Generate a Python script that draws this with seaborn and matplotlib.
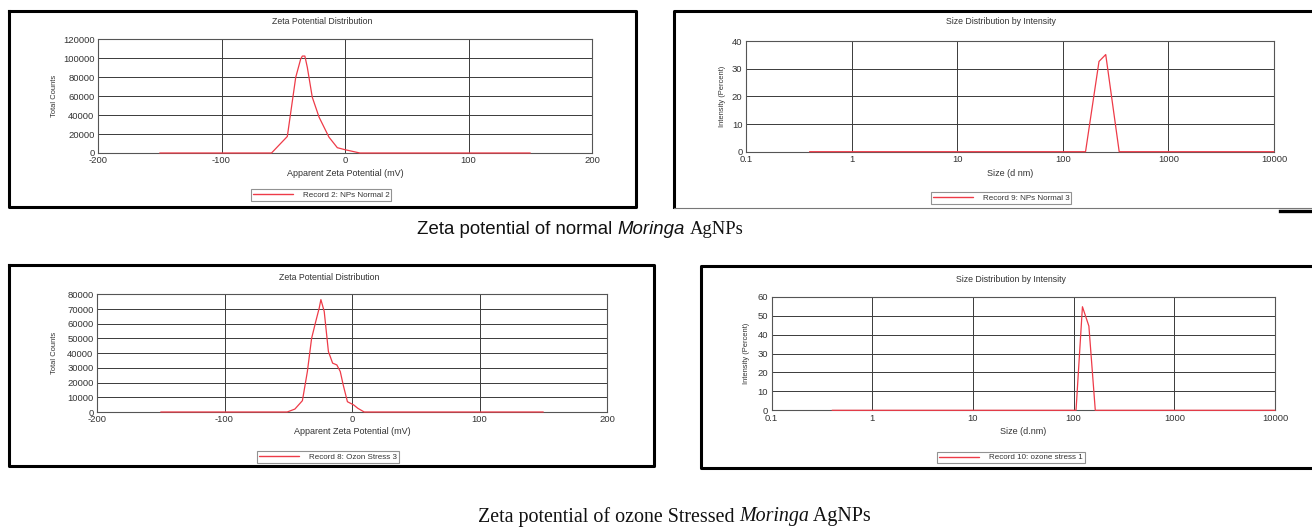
import numpy as np
import pandas as pd
import matplotlib
matplotlib.use("Agg")
import matplotlib.pyplot as plt
import seaborn as sns
from matplotlib.ticker import FixedLocator, FixedFormatter, NullFormatter
from matplotlib.lines import Line2D

# ---------------- data ----------------
# Zeta potential, normal AgNPs (mV vs total counts)
zeta_normal_mv = [-150, -59.5, -46.7, -39.9, -35.9, -34.5, -32.5, -30.5, -26.5, -21.0, -13.0, -6.2, 0.0, 8.6, 12.0, 150]
zeta_normal_counts = [0, 0, 17500, 80000, 99300, 102500, 102500, 90500, 59000, 37900, 16800, 5600, 3500, 1000, 0, 0]

# Size distribution, normal AgNPs (d.nm vs intensity %)
size_normal_nm = [0.4, 164.2, 220.2, 255.0, 342.0, 10000]
size_normal_pct = [0, 0, 32.7, 35.2, 0, 0]

# Zeta potential, ozone-stressed AgNPs
zeta_ozone_mv = [-150, -50.8, -44.8, -38.9, -35.0, -31.7, -28.4, -25.7, -24.4, -21.8, -18.5, -15.2, -11.9, -9.2, -6.9, -3.6, 1.3, 4.6, 9.6, 150]
zeta_ozone_counts = [0, 0, 2000, 7700, 27500, 50000, 61600, 70700, 76400, 68400, 41100, 33200, 32000, 27500, 18400, 7000, 4800, 2500, 0, 0]

# Size distribution, ozone-stressed AgNPs
size_ozone_nm = [0.4, 105.7, 122.4, 141.8, 164.2, 10000]
size_ozone_pct = [0, 0, 54.7, 44.5, 0, 0]

zeta_ticks = [-200, -100, 0, 100, 200]
size_ticks = [0.1, 1, 10, 100, 1000, 10000]
size_tick_labels = ["0.1", "1", "10", "100", "1000", "10000"]

legend_labels = ["Record 2: NPs Normal 2", "Record 9: NPs Normal 3",
                 "Record 8: Ozon Stress 3", "Record 10: ozone stress 1"]

# ---------------- style ----------------
sns.set_theme(style="white")
plt.rcParams["font.family"] = ["Liberation Sans", "DejaVu Sans"]

W, H = 1312, 529
fig = plt.figure(figsize=(W / 100, H / 100), dpi=100)
fig.patch.set_facecolor("white")

RED = "#ee3b48"
GRID = "#3a3a3a"
TXT = "#333333"


def fx(px):
    return px / W


def fy(py):
    return 1 - py / H


def add_axes(x0, x1, y0, y1):
    return fig.add_axes([fx(x0), fy(y1), fx(x1 - x0), (y1 - y0) / H])


def frame_line(xs, ys, lw=2.2, color="black"):
    fig.add_artist(Line2D([fx(x) for x in xs], [fy(y) for y in ys],
                          transform=fig.transFigure, color=color, lw=lw,
                          solid_capstyle="projecting"))


def style_axes(ax):
    for s in ax.spines.values():
        s.set_color("#555555")
        s.set_linewidth(0.8)
    ax.grid(True, which="major", color=GRID, lw=0.7)
    ax.set_axisbelow(True)
    ax.tick_params(which="major", length=0, labelsize=6.8, colors=TXT, pad=2.5)
    ax.tick_params(which="minor", direction="inout", length=2.2, width=0.7, color="#666666")
    ax.set_xlabel("")
    ax.set_ylabel("")


def add_legend(ax, label, cx, cy):
    h = Line2D([], [], color=RED, lw=1.0)
    leg = ax.legend([h], [label], loc="center", bbox_to_anchor=(fx(cx), fy(cy)),
                    bbox_transform=fig.transFigure, frameon=True, fancybox=False,
                    fontsize=5.8, handlelength=5.0, handletextpad=1.2,
                    borderpad=0.25, labelcolor=TXT)
    leg.get_frame().set_edgecolor("#777777")
    leg.get_frame().set_linewidth(0.8)


def raise_lines(ax):
    for ln in ax.lines:
        ln.set_clip_on(False)
        ln.set_zorder(5)


def zeta_panel(ax, mv, counts, ymax, ystep, label, title_x, title_y, xlab_y, ylab_x, leg_xy):
    df = pd.DataFrame({"mv": mv, "counts": counts})
    sns.lineplot(data=df, x="mv", y="counts", ax=ax, color=RED, lw=0.9,
                 estimator=None, sort=False, legend=False)
    raise_lines(ax)
    ax.set_xlim(-200, 200)
    ax.set_ylim(0, ymax)
    ax.xaxis.set_major_locator(FixedLocator(zeta_ticks))
    ax.xaxis.set_minor_locator(FixedLocator([-150, -50, 50, 150]))
    yt = list(range(0, ymax + 1, ystep))
    ax.yaxis.set_major_locator(FixedLocator(yt))
    ax.yaxis.set_minor_locator(FixedLocator([v + ystep / 2 for v in yt[:-1]]))
    ax.set_yticklabels([str(v) for v in yt])
    ax.set_xticklabels([str(v) for v in zeta_ticks])
    style_axes(ax)
    fig.text(fx(title_x), fy(title_y), "Zeta Potential Distribution", ha="center", va="center",
             fontsize=6.3, color=TXT)
    bb = ax.get_position()
    fig.text(bb.x0 + bb.width / 2, fy(xlab_y), "Apparent Zeta Potential (mV)", ha="center",
             va="center", fontsize=6.5, color=TXT)
    fig.text(fx(ylab_x), bb.y0 + bb.height / 2, "Total Counts", rotation=90, ha="center",
             va="center", fontsize=5.4, color=TXT)
    add_legend(ax, label, *leg_xy)


def size_panel(ax, nm, pct, ymax, xlabel, label, title_x, title_y, xlab_y, ylab_x, leg_xy):
    df = pd.DataFrame({"nm": nm, "pct": pct})
    sns.lineplot(data=df, x="nm", y="pct", ax=ax, color=RED, lw=0.9,
                 estimator=None, sort=False, legend=False)
    raise_lines(ax)
    ax.set_xscale("log")
    ax.set_xlim(0.1, 10000)
    ax.set_ylim(0, ymax)
    ax.xaxis.set_major_locator(FixedLocator(size_ticks))
    ax.xaxis.set_major_formatter(FixedFormatter(size_tick_labels))
    minors = [m * d for d in [0.1, 1, 10, 100, 1000] for m in range(2, 10)]
    ax.xaxis.set_minor_locator(FixedLocator(minors))
    ax.xaxis.set_minor_formatter(NullFormatter())
    yt = list(range(0, ymax + 1, 10))
    ax.yaxis.set_major_locator(FixedLocator(yt))
    ax.yaxis.set_minor_locator(FixedLocator([v + 5 for v in yt[:-1]]))
    ax.set_yticklabels([str(v) for v in yt])
    style_axes(ax)
    fig.text(fx(title_x), fy(title_y), "Size Distribution by Intensity", ha="center", va="center",
             fontsize=6.3, color=TXT)
    bb = ax.get_position()
    fig.text(bb.x0 + bb.width / 2, fy(xlab_y), xlabel, ha="center", va="center",
             fontsize=6.5, color=TXT)
    fig.text(fx(ylab_x), bb.y0 + bb.height / 2, "Intensity (Percent)", rotation=90, ha="center",
             va="center", fontsize=5.4, color=TXT)
    add_legend(ax, label, *leg_xy)


# ---------------- panels ----------------
ax1 = add_axes(98, 592, 39.5, 153)
zeta_panel(ax1, zeta_normal_mv, zeta_normal_counts, 120000, 20000, legend_labels[0],
           322, 22, 173, 55, (321, 195))

ax2 = add_axes(746, 1274, 41.3, 151.7)
size_panel(ax2, size_normal_nm, size_normal_pct, 40, "Size (d nm)", legend_labels[1],
           1001, 22, 174, 722, (1001, 198))

ax3 = add_axes(97, 607, 294.3, 412)
zeta_panel(ax3, zeta_ozone_mv, zeta_ozone_counts, 80000, 10000, legend_labels[2],
           329, 278, 432, 54, (328, 457))

ax4 = add_axes(771.5, 1275, 296.7, 410.3)
size_panel(ax4, size_ozone_nm, size_ozone_pct, 60, "Size (d.nm)", legend_labels[3],
           1011, 279, 432, 747, (1011, 457.5))

# ---------------- panel frames ----------------
# top-left
frame_line([9, 636, 636, 9, 9], [10.5, 10.5, 207, 207, 10.5])
# top-right (open on the right)
frame_line([1312, 674, 674], [10.5, 10.5, 207])
frame_line([674, 1312], [208, 208], lw=0.8, color="#777777")
frame_line([1280, 1312], [210.5, 210.5], lw=2.4)
# bottom-left
frame_line([9, 654, 654, 9, 9], [264.5, 264.5, 466, 466, 264.5])
# bottom-right (open on the right)
frame_line([1312, 701, 701, 1312], [266, 266, 468, 468])

# ---------------- captions ----------------
renderer = fig.canvas.get_renderer()


def chain_text(x_px, y_px, parts, size):
    x = fx(x_px)
    for txt, fam, style in parts:
        t = fig.text(x, fy(y_px), txt, ha="left", va="center", fontsize=size,
                     family=fam, style=style, color="#111111")
        bb = t.get_window_extent(renderer=renderer)
        x += bb.width / W


chain_text(417, 229, [("Zeta potential of normal ", ["Liberation Sans"], "normal"),
                      ("Moringa", ["Liberation Sans"], "italic"),
                      (" ", ["Liberation Sans"], "normal"),
                      ("AgNPs", ["Liberation Serif"], "normal")], 13.4)

chain_text(478, 517, [("Zeta potential of ozone Stressed ", ["Liberation Serif"], "normal"),
                      ("Moringa", ["Liberation Serif"], "italic"),
                      (" AgNPs", ["Liberation Serif"], "normal")], 14.4)

fig.savefig("out.png", dpi=100, facecolor="white")
